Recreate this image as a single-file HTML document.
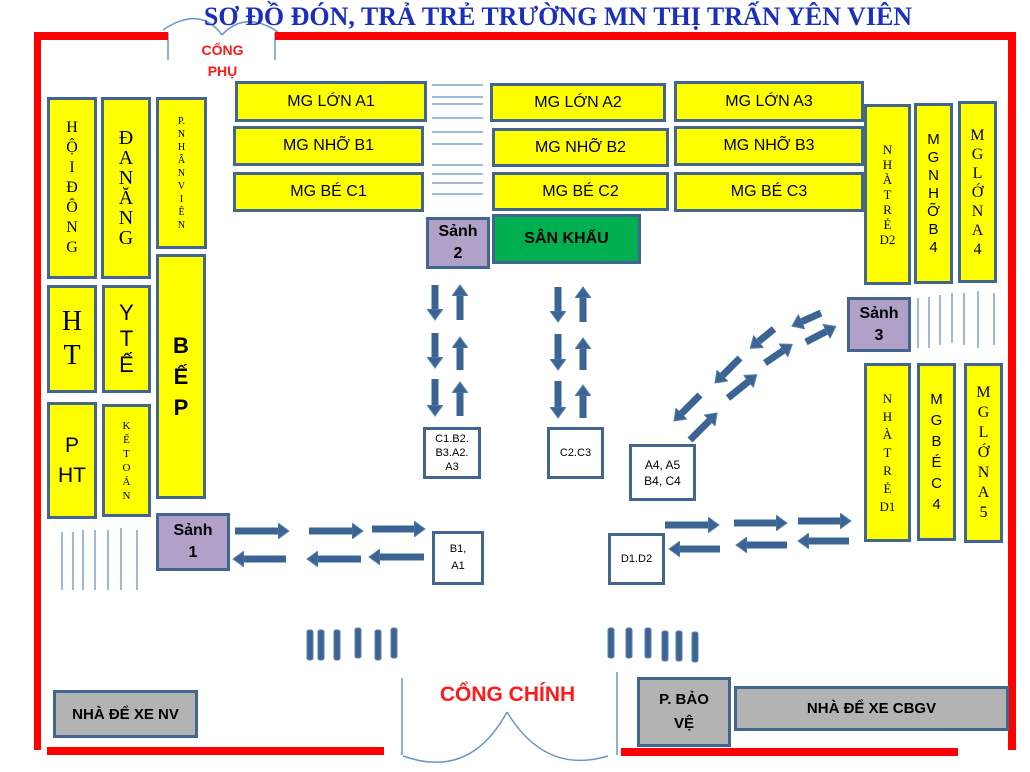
<!DOCTYPE html>
<html><head><meta charset="utf-8">
<style>
body{margin:0;width:1030px;height:772px;background:#fff;position:relative;overflow:hidden;font-family:"Liberation Sans",sans-serif;}
.b{position:absolute;box-sizing:border-box;border:3px solid #42668f;background:#ffff00;display:flex;align-items:center;justify-content:center;text-align:center;color:#000;}
.h{font-size:16px;}
.v{font-family:"Liberation Serif",serif;}
.p{background:#b1a0c7;font-weight:bold;font-size:16px;line-height:22px;}
.w{background:#fff;font-size:11px;line-height:14px;}
.g{background:#b3b3b3;font-weight:bold;}
.red{position:absolute;background:#ff0000;}
svg{position:absolute;left:0;top:0;}
</style></head><body>
<svg width="1030" height="772">
<defs>
<marker id="m" markerUnits="userSpaceOnUse" markerWidth="12" markerHeight="16" refX="1" refY="8" orient="auto"><path d="M0,0 L11,8 L0,16Z" fill="#3b6494" stroke="#5a82b0" stroke-width="1"/></marker>
</defs>
<g stroke="#7fa3cc" stroke-width="1.5">
<line x1="432" y1="85" x2="483" y2="85"/><line x1="432" y1="97" x2="483" y2="97"/><line x1="432" y1="104" x2="483" y2="104"/><line x1="432" y1="118" x2="483" y2="118"/><line x1="432" y1="132" x2="483" y2="132"/><line x1="432" y1="144" x2="483" y2="144"/><line x1="432" y1="165" x2="483" y2="165"/><line x1="432" y1="174" x2="483" y2="174"/><line x1="432" y1="183" x2="483" y2="183"/><line x1="432" y1="194" x2="483" y2="194"/>
<line x1="62" y1="532" x2="62" y2="590"/><line x1="73" y1="532" x2="73" y2="590"/><line x1="83" y1="530" x2="83" y2="590"/><line x1="95" y1="530" x2="95" y2="590"/><line x1="108" y1="530" x2="108" y2="590"/><line x1="121" y1="528" x2="121" y2="590"/><line x1="137" y1="530" x2="137" y2="590"/>
<line x1="918" y1="298" x2="918" y2="348"/><line x1="929" y1="297" x2="929" y2="348"/><line x1="940" y1="295" x2="940" y2="345"/><line x1="952" y1="293" x2="952" y2="343"/><line x1="964" y1="293" x2="964" y2="345"/><line x1="978" y1="291" x2="978" y2="348"/><line x1="994" y1="293" x2="994" y2="345"/>
</g>
<g stroke="#6b96c6" stroke-width="1.5" fill="none">
<line x1="402" y1="678" x2="402" y2="755"/><line x1="617" y1="672" x2="617" y2="755"/>
<path d="M403,756 Q470,780 507,712"/><path d="M507,712 Q545,775 608,756"/>
<line x1="168" y1="33" x2="168" y2="60"/><line x1="275" y1="33" x2="275" y2="60"/>
<path d="M163,30 Q200,5 222,35"/><path d="M222,35 Q245,10 278,32"/>
</g>
<g stroke="#3b6494" stroke-width="7" marker-end="url(#m)">
<line x1="435" y1="285" x2="435" y2="310"/><line x1="435" y1="333" x2="435" y2="358"/><line x1="435" y1="379" x2="435" y2="406"/>
<line x1="460" y1="320" x2="460" y2="295"/><line x1="460" y1="370" x2="460" y2="347"/><line x1="460" y1="416" x2="460" y2="392"/>
<line x1="558" y1="287" x2="558" y2="312"/><line x1="558" y1="334" x2="558" y2="360"/><line x1="558" y1="381" x2="558" y2="408"/>
<line x1="583" y1="322" x2="583" y2="297"/><line x1="583" y1="370" x2="583" y2="348"/><line x1="583" y1="418" x2="583" y2="395"/>
<line x1="235" y1="531" x2="279" y2="531"/><line x1="309" y1="531" x2="353" y2="531"/><line x1="372" y1="529" x2="415" y2="529"/>
<line x1="286" y1="559" x2="243" y2="559"/><line x1="361" y1="559" x2="317" y2="559"/><line x1="424" y1="557" x2="379" y2="557"/>
<line x1="665" y1="525" x2="709" y2="525"/><line x1="734" y1="523" x2="777" y2="523"/><line x1="798" y1="521" x2="841" y2="521"/>
<line x1="720" y1="549" x2="679" y2="549"/><line x1="787" y1="545" x2="746" y2="545"/><line x1="849" y1="541" x2="808" y2="541"/>
<line x1="690" y1="440" x2="710" y2="420"/><line x1="728" y1="398" x2="749" y2="381"/><line x1="765" y1="363" x2="784" y2="350"/><line x1="806" y1="342" x2="827" y2="331"/>
<line x1="700" y1="395" x2="681" y2="414"/><line x1="740" y1="358" x2="722" y2="376"/><line x1="774" y1="329" x2="758" y2="342"/><line x1="821" y1="313" x2="801" y2="322"/>
</g>
<g fill="#3b6494" stroke="#5a82b0" stroke-width="1">
<rect x="307" y="630" width="6" height="30" rx="2"/><rect x="318" y="630" width="6" height="30" rx="2"/><rect x="334" y="630" width="6" height="30" rx="2"/><rect x="355" y="628" width="6" height="30" rx="2"/><rect x="375" y="630" width="6" height="30" rx="2"/><rect x="391" y="628" width="6" height="30" rx="2"/>
<rect x="608" y="628" width="6" height="30" rx="2"/><rect x="626" y="628" width="6" height="30" rx="2"/><rect x="645" y="628" width="6" height="30" rx="2"/><rect x="662" y="631" width="6" height="30" rx="2"/><rect x="676" y="631" width="6" height="30" rx="2"/><rect x="692" y="632" width="6" height="30" rx="2"/>
</g>
</svg>
<div class="red" style="left:34px;top:32px;width:134px;height:8px"></div>
<div class="red" style="left:275px;top:32px;width:740px;height:8px"></div>
<div class="red" style="left:34px;top:32px;width:7px;height:718px"></div>
<div class="red" style="left:1008px;top:32px;width:8px;height:718px"></div>
<div class="red" style="left:47px;top:747px;width:337px;height:8px"></div>
<div class="red" style="left:621px;top:748px;width:337px;height:8px"></div>

<div style="position:absolute;left:100px;top:2px;width:916px;text-align:center;font-family:'Liberation Serif',serif;font-weight:bold;font-size:26px;color:#1a2fbf;white-space:nowrap;">SƠ ĐỒ ĐÓN, TRẢ TRẺ TRƯỜNG MN THỊ TRẤN YÊN VIÊN</div>
<div style="position:absolute;left:195px;top:40px;width:55px;text-align:center;color:#ff1a1a;font-weight:bold;font-size:14px;line-height:21px;">CỔNG<br>PHỤ</div>
<div style="position:absolute;left:400px;top:683px;width:215px;text-align:center;color:#ff1a1a;font-weight:bold;font-size:21px;">CỔNG CHÍNH</div>

<div class="b v" style="left:47px;top:97px;width:50px;height:182px;font-size:16px;line-height:20px;">H<br>Ộ<br>I<br>Đ<br>Ô<br>N<br>G</div>
<div class="b v" style="left:101px;top:97px;width:50px;height:182px;font-size:20px;line-height:20px;">Đ<br>A<br>N<br>Ă<br>N<br>G</div>
<div class="b v" style="left:156px;top:97px;width:51px;height:152px;font-size:10px;line-height:13px;">P.<br>N<br>H<br>Â<br>N<br>V<br>I<br>Ê<br>N</div>
<div class="b v" style="left:47px;top:285px;width:50px;height:108px;font-size:28px;line-height:34px;">H<br>T</div>
<div class="b" style="left:102px;top:285px;width:49px;height:108px;font-size:22px;line-height:26px;">Y<br>T<br>Ế</div>
<div class="b" style="left:47px;top:402px;width:50px;height:117px;font-size:21px;line-height:30px;">P<br>HT</div>
<div class="b v" style="left:102px;top:404px;width:49px;height:113px;font-size:11px;line-height:14px;">K<br>Ế<br>T<br>O<br>Á<br>N</div>
<div class="b" style="left:156px;top:254px;width:50px;height:245px;font-size:22px;font-weight:bold;line-height:31px;">B<br>Ế<br>P</div>
<div class="b p" style="left:156px;top:513px;width:74px;height:58px;">Sảnh<br>1</div>

<div class="b h" style="left:235px;top:81px;width:192px;height:41px;">MG LỚN A1</div>
<div class="b h" style="left:233px;top:126px;width:191px;height:40px;">MG NHỠ B1</div>
<div class="b h" style="left:233px;top:172px;width:191px;height:40px;">MG BÉ C1</div>
<div class="b h" style="left:490px;top:83px;width:176px;height:39px;">MG LỚN A2</div>
<div class="b h" style="left:492px;top:128px;width:177px;height:39px;">MG NHỠ B2</div>
<div class="b h" style="left:492px;top:172px;width:177px;height:39px;">MG BÉ C2</div>
<div class="b h" style="left:674px;top:81px;width:190px;height:41px;">MG LỚN A3</div>
<div class="b h" style="left:674px;top:126px;width:190px;height:40px;">MG NHỠ B3</div>
<div class="b h" style="left:674px;top:172px;width:190px;height:40px;">MG BÉ C3</div>
<div class="b p" style="left:426px;top:217px;width:64px;height:52px;">Sảnh<br>2</div>
<div class="b" style="left:492px;top:214px;width:149px;height:50px;background:#00b050;font-weight:bold;font-size:16px;">SÂN KHẤU</div>

<div class="b v" style="left:864px;top:104px;width:47px;height:181px;font-size:13px;line-height:15px;">N<br>H<br>À<br>T<br>R<br>Ẻ<br>D2</div>
<div class="b" style="left:914px;top:103px;width:39px;height:181px;font-size:15px;line-height:18px;">M<br>G<br>N<br>H<br>Ỡ<br>B<br>4</div>
<div class="b v" style="left:958px;top:101px;width:39px;height:182px;font-size:16px;line-height:19px;">M<br>G<br>L<br>Ớ<br>N<br>A<br>4</div>
<div class="b p" style="left:847px;top:297px;width:64px;height:55px;">Sảnh<br>3</div>
<div class="b v" style="left:864px;top:363px;width:47px;height:179px;font-size:13px;line-height:18px;">N<br>H<br>À<br>T<br>R<br>Ẻ<br>D1</div>
<div class="b" style="left:917px;top:363px;width:39px;height:178px;font-size:15px;line-height:21px;">M<br>G<br>B<br>É<br>C<br>4</div>
<div class="b v" style="left:964px;top:363px;width:39px;height:180px;font-size:16px;line-height:20px;">M<br>G<br>L<br>Ớ<br>N<br>A<br>5</div>

<div class="b w" style="left:423px;top:427px;width:58px;height:52px;">C1.B2.<br>B3.A2.<br>A3</div>
<div class="b w" style="left:547px;top:427px;width:57px;height:52px;">C2.C3</div>
<div class="b w" style="left:629px;top:444px;width:67px;height:57px;font-size:12px;line-height:16px;">A4, A5<br>B4, C4</div>
<div class="b w" style="left:432px;top:531px;width:52px;height:54px;line-height:17px;">B1,<br>A1</div>
<div class="b w" style="left:608px;top:533px;width:57px;height:52px;">D1.D2</div>

<div class="b g" style="left:53px;top:690px;width:145px;height:48px;font-size:15px;">NHÀ ĐỂ XE NV</div>
<div class="b g" style="left:637px;top:677px;width:94px;height:70px;font-size:15px;line-height:24px;">P. BẢO<br>VỆ</div>
<div class="b g" style="left:734px;top:686px;width:275px;height:45px;font-size:15px;">NHÀ ĐỂ XE CBGV</div>
</body></html>
